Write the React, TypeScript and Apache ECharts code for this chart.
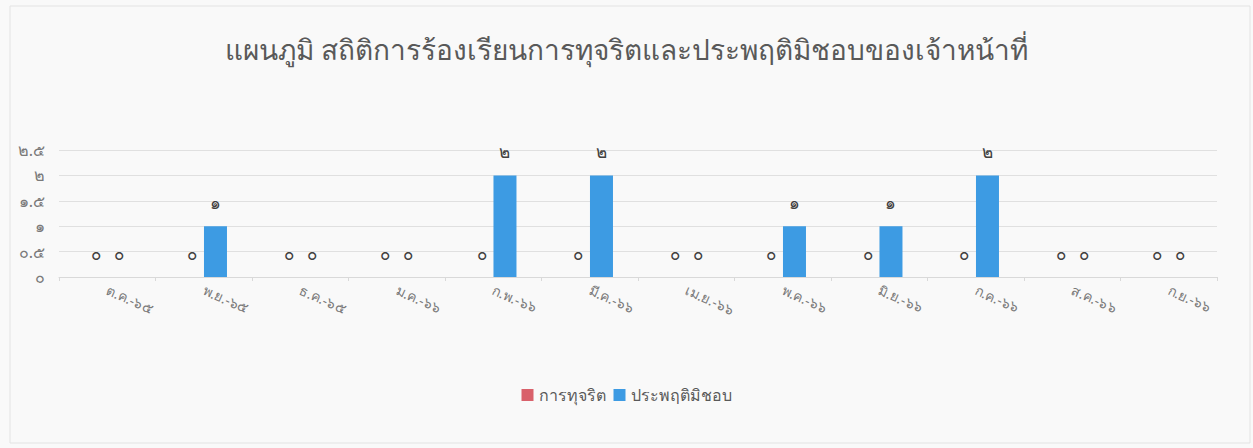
import React, { useEffect, useRef } from "react";
import * as echarts from "echarts";

const categories = ["ต.ค.-๖๕", "พ.ย.-๖๕", "ธ.ค.-๖๕", "ม.ค.-๖๖", "ก.พ.-๖๖", "มี.ค.-๖๖", "เม.ย.-๖๖", "พ.ค.-๖๖", "มิ.ย.-๖๖", "ก.ค.-๖๖", "ส.ค.-๖๖", "ก.ย.-๖๖"];
const corruption = [0, 0, 0, 0, 0, 0, 0, 0, 0, 0, 0, 0];
const misconduct = [0, 1, 0, 0, 2, 2, 0, 1, 1, 2, 0, 0];
const seriesNames = ["การทุจริต", "ประพฤติมิชอบ"];
const title = "แผนภูมิ สถิติการร้องเรียนการทุจริตและประพฤติมิชอบของเจ้าหน้าที่";

const thaiDigits = ["๐", "๑", "๒", "๓", "๔", "๕", "๖", "๗", "๘", "๙"];
const toThai = (v: number | string) => String(v).replace(/[0-9]/g, (d) => thaiDigits[Number(d)]);

const FONT = "'Noto Sans', 'DejaVu Sans', sans-serif";

export default function App() {
  const ref = useRef<HTMLDivElement>(null);
  useEffect(() => {
    document.body.style.margin = "0";
    const chart = echarts.init(ref.current!, null, { renderer: "svg" });
    const label = {
      show: true,
      position: "top" as const,
      distance: 15,
      color: "#404040",
      fontSize: 17,
      fontFamily: FONT,
      formatter: (p: any) => toThai(p.value),
    };
    chart.setOption({
      animation: false,
      backgroundColor: "#f9f9f9",
      textStyle: { fontFamily: FONT },
      title: {
        text: title,
        left: "center",
        top: 30,
        textStyle: { fontSize: 28, fontWeight: "normal", color: "#595959", fontFamily: FONT },
      },
      graphic: [
        {
          type: "rect",
          shape: { x: 10, y: 6, width: 1240, height: 437 },
          style: { fill: "none", stroke: "#e3e3e3", lineWidth: 1 },
          silent: true,
        },
      ],
      legend: {
        bottom: 40,
        left: "center",
        itemWidth: 12,
        itemHeight: 12,
        itemGap: 8,
        icon: "rect",
        textStyle: { fontSize: 16, color: "#595959", fontFamily: FONT },
        data: seriesNames,
      },
      grid: { left: 59, right: 36, top: 150, bottom: 171, containLabel: false },
      xAxis: {
        type: "category",
        data: categories,
        axisLine: { lineStyle: { color: "#d9d9d9" } },
        axisTick: { show: true, lineStyle: { color: "#d9d9d9" }, length: 4 },
        axisLabel: { rotate: -24, color: "#7a7a7a", fontSize: 14, margin: 12, fontFamily: FONT },
      },
      yAxis: {
        type: "value",
        min: 0,
        max: 2.5,
        interval: 0.5,
        axisLine: { show: false },
        axisTick: { show: false },
        splitLine: { lineStyle: { color: "#e0e0e0" } },
        axisLabel: {
          color: "#7a7a7a",
          fontSize: 16,
          margin: 14,
          fontFamily: FONT,
          formatter: (v: number) => toThai(v),
        },
      },
      series: [
        {
          name: seriesNames[0],
          type: "bar",
          data: corruption,
          barWidth: 23,
          barGap: "2%",
          itemStyle: { color: "#d9616b" },
          label,
        },
        {
          name: seriesNames[1],
          type: "bar",
          data: misconduct,
          barWidth: 23,
          barGap: "2%",
          itemStyle: { color: "#3d9be3" },
          label,
        },
      ],
    });
    return () => chart.dispose();
  }, []);
  return <div ref={ref} style={{ width: 1253, height: 448 }} />;
}
